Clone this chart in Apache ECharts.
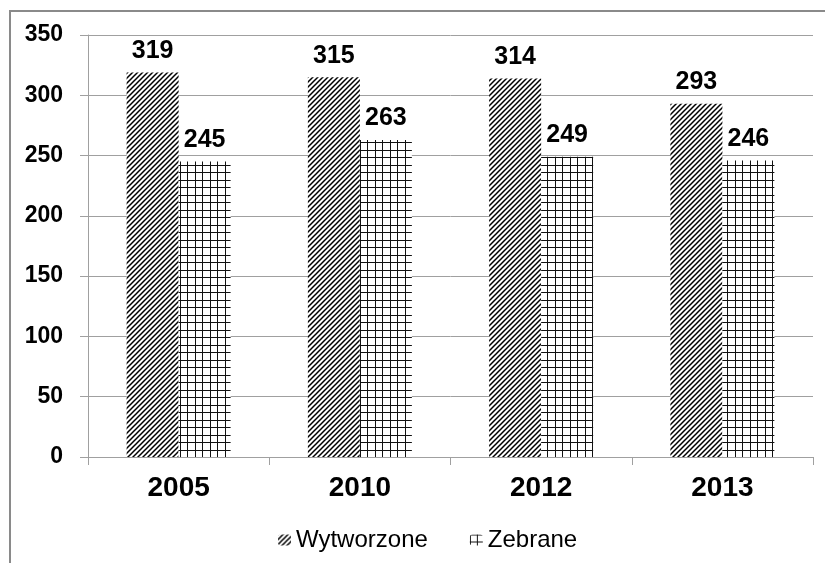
<!DOCTYPE html>
<html>
<head>
<meta charset="utf-8">
<script src="https://cdn.jsdelivr.net/npm/echarts@6/dist/echarts.min.js"></script>
<style>
html,body{margin:0;padding:0;background:#fff;}
#c{width:825px;height:563px;}
</style>
</head>
<body>
<div id="c"></div>
<script>
var categories = ['2005', '2010', '2012', '2013'];
var wytworzone = [319, 315, 314, 293];
var zebrane = [245, 263, 249, 246];
var seriesNames = ['Wytworzone', 'Zebrane'];
var yTicks = { min: 0, max: 350, interval: 50 };

function stripePattern() {
  var s = 5;
  var cv = document.createElement('canvas');
  cv.width = s; cv.height = s;
  var ctx = cv.getContext('2d');
  ctx.fillStyle = '#fff';
  ctx.fillRect(0, 0, s, s);
  ctx.strokeStyle = '#000';
  ctx.lineWidth = 1.5;
  ctx.beginPath();
  ctx.moveTo(-1, s + 1); ctx.lineTo(s + 1, -1);
  ctx.moveTo(-1, 1); ctx.lineTo(1, -1);
  ctx.moveTo(s - 1, s + 1); ctx.lineTo(s + 1, s - 1);
  ctx.stroke();
  return cv;
}
function gridPattern() {
  var s = 15;
  var cv = document.createElement('canvas');
  cv.width = s; cv.height = s;
  var ctx = cv.getContext('2d');
  ctx.fillStyle = '#fff';
  ctx.fillRect(0, 0, s, s);
  ctx.fillStyle = '#111';
  ctx.fillRect(0, 0, 1, s);
  ctx.fillRect(7, 0, 1, s);
  ctx.fillRect(0, 0, s, 1);
  ctx.fillRect(0, 7, s, 1);
  return cv;
}

var chart = echarts.init(document.getElementById('c'), null, { renderer: 'canvas' });
var font = 'Liberation Sans, Arial, sans-serif';
var labelStyle = {
  show: true, position: 'top', distance: 9,
  fontFamily: font, fontWeight: 'bold', fontSize: 25, color: '#000'
};
chart.setOption({
  animation: false,
  backgroundColor: '#fff',
  graphic: [{
    type: 'polyline',
    shape: { points: [[10, 600], [10, 11], [830, 11]] },
    style: { stroke: '#8a8a8a', lineWidth: 2, fill: null }
  }],
  grid: { left: 88, right: 12, top: 35, bottom: 106 },
  legend: {
    bottom: 6,
    left: 273,
    itemWidth: 13,
    itemHeight: 11,
    itemGap: 42,
    textStyle: { fontFamily: font, fontSize: 24, color: '#000' },
    data: seriesNames
  },
  xAxis: {
    type: 'category',
    data: categories,
    axisLine: { lineStyle: { color: '#a0a0a0', width: 1 } },
    axisTick: { show: true, length: 8, lineStyle: { color: '#a0a0a0' } },
    axisLabel: { fontFamily: font, fontWeight: 'bold', fontSize: 28, color: '#000', margin: 17 }
  },
  yAxis: {
    type: 'value',
    min: yTicks.min, max: yTicks.max, interval: yTicks.interval,
    axisLine: { show: true, lineStyle: { color: '#a0a0a0', width: 1 } },
    axisTick: { show: true, length: 8, lineStyle: { color: '#a0a0a0' } },
    splitLine: { lineStyle: { color: '#a0a0a0', width: 1 } },
    axisLabel: { fontFamily: font, fontWeight: 'bold', fontSize: 23, color: '#000', margin: 25 }
  },
  series: [
    {
      name: seriesNames[0], type: 'bar', data: wytworzone,
      barWidth: 52, barGap: '0%',
      itemStyle: { color: { image: stripePattern(), repeat: 'repeat' } },
      label: labelStyle
    },
    {
      name: seriesNames[1], type: 'bar', data: zebrane,
      barWidth: 52, barGap: '0%',
      itemStyle: { color: { image: gridPattern(), repeat: 'repeat' } },
      label: labelStyle
    }
  ]
});
</script>
</body>
</html>
